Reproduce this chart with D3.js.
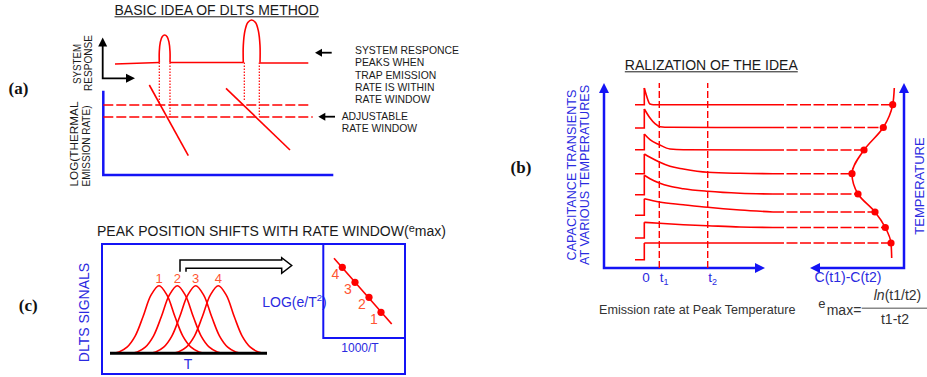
<!DOCTYPE html>
<html>
<head>
<meta charset="utf-8">
<script src="https://cdn.jsdelivr.net/npm/d3@7"></script>
<style>
  body { margin: 0; background: #fff; }
  svg text { font-family: "Liberation Sans", Arial, sans-serif; }
  svg text.plabel { font-family: "Liberation Serif", "Times New Roman", serif; font-weight: bold; }
</style>
</head>
<body>
<div id="chart"></div>
<script>
// ---------- panel (a): basic idea (diagram units, y up) ----------
const rateWindow = [70, 58];
const trapLines = [[[46, 90], [85, 19.3]], [[122.7, 86.7], [186.7, 25]]];
const responseFlat = [[[11.7, 111], [56, 112.5]], [[66.7, 112.5], [140, 112.5]], [[156.7, 112], [205, 112]]];
const responsePeaks = [[56, 66.7, 140, 112.5], [140, 156.7, 155, 112.3]];   // left, right, top, base
const peakDrops = [[56, 70], [66.7, 58], [141, 74.3], [156, 58]];
const noteLines = ["SYSTEM RESPONCE", "PEAKS WHEN", "TRAP EMISSION", "RATE IS WITHIN", "RATE WINDOW"];
const windowNote = ["ADJUSTABLE", "RATE WINDOW"];

// ---------- panel (b): capacitance transients ----------
const stepStart = 31, stepTime = 40.3, solidEnd = 169, t1 = 55.3, t2 = 103.7;
const baseLevels = [163.3, 140, 118.3, 94.3, 73.3, 52.7, 30, 8.3];
const transients = [
  [[40.3, 180], [42.7, 171.7], [46, 164], [49.3, 163.3], [169, 163.3]],
  [[40.3, 159], [46, 150], [51, 144.3], [56, 141.3], [66, 140.7], [169, 140.5]],
  [[40.3, 134], [46, 128.3], [55.3, 123.3], [66, 119], [79.3, 118.3], [169, 118]],
  [[40.3, 114], [46, 110.7], [55.3, 106], [66, 101.7], [79.3, 99], [103.7, 95.7], [136, 94.7], [169, 94.3]],
  [[40.3, 92.7], [46, 89.3], [55.3, 85], [66, 81.7], [79.3, 79.3], [103.7, 76.7], [136, 74.7], [169, 74]],
  [[40.3, 69.3], [55.3, 66], [79.3, 63.3], [103.7, 60.7], [136, 58], [169, 56]],
  [[40.3, 45.7], [55.3, 44.7], [79.3, 43.3], [103.7, 42.3], [136, 41], [169, 40.5]],
  [[40.3, 25], [103.7, 25], [169, 25]]
];
const dltsSignal = [288.7, 279.3, 260, 248, 254, 271, 281.3, 287];
const signalEnds = [[290.3, 180], [287.7, 10]];

// ---------- panel (c): peak shift ----------
const peakT = [49, 67.3, 85.7, 108.3];
const peakNames = ["1", "2", "3", "4"];
const profileOffset = [-47, -40, -32, -24, -16, -8, 0, 8, 16, 24, 32, 40, 47];
const profileHeight = [0, 0.02, 0.09, 0.25, 0.54, 0.86, 1, 0.86, 0.54, 0.25, 0.09, 0.02, 0];
const invT = [57.7, 45.7, 31.7, 19];
const logRate = [25.7, 40.7, 55.7, 70.7];
const fitLine = [[10.7, 79.7], [68.4, 14]];

const RED = "#ff0000", BLUE = "#1414f5", TBLUE = "#2a2ae0", ORANGE = "#ff5533";

const svg = d3.select("#chart").append("svg")
  .attr("width", 927).attr("height", 377);

function head(g, x, y, dx, dy, len, half, color) {
  const bx = x - dx * len, by = y - dy * len, px = -dy * half, py = dx * half;
  g.append("path")
    .attr("d", `M${x},${y}L${bx + px},${by + py}L${bx - px},${by - py}Z`)
    .attr("fill", color);
}
function vtext(g, x, y, str, size, color, anchor, len) {
  const t = g.append("text").attr("transform", `translate(${x},${y}) rotate(-90)`)
    .attr("text-anchor", anchor || "middle").attr("font-size", size).attr("fill", color).text(str);
  if (len) t.attr("textLength", len).attr("lengthAdjust", "spacingAndGlyphs");
  return t;
}
function title(g, x, y, str, underline) {
  const t = g.append("text").attr("x", x).attr("y", y).attr("text-anchor", "middle")
    .attr("font-size", 14).attr("fill", "#1a1a1a").text(str);
  if (underline) {
    const w = t.node().getComputedTextLength();
    g.append("line").attr("x1", x - w / 2).attr("x2", x + w / 2)
      .attr("y1", y + 1.8).attr("y2", y + 1.8).attr("stroke", "#1a1a1a").attr("stroke-width", 1);
  }
}
function label(g, x, y, str) {
  g.append("text").attr("class", "plabel").attr("x", x).attr("y", y).attr("text-anchor", "middle")
    .attr("font-size", 17).attr("fill", "#111").text(str);
}

// ================= panel (a) =================
const ga = svg.append("g");
const xA = d3.scaleLinear().domain([0, 230]).range([103.3, 333.3]);
const yA = d3.scaleLinear().domain([0, 155]).range([175, 20]);
const lineA = d3.line().x(d => xA(d[0])).y(d => yA(d[1]));

title(ga, 216.7, 15, "BASIC IDEA OF DLTS METHOD", true);
label(ga, 18.5, 94, "(a)");

// blue axes
ga.append("path").attr("d", lineA([[0, 84.3], [0, 0], [230, 0]]))
  .attr("fill", "none").attr("stroke", BLUE).attr("stroke-width", 2.5);

// black response axes
const ox = xA(-0.6), oy = yA(96.7);
ga.append("path").attr("d", `M${ox},${yA(132)}V${oy}H${xA(26)}`)
  .attr("fill", "none").attr("stroke", "#000").attr("stroke-width", 1.8);
head(ga, ox, yA(137.5), 0, -1, 9, 4.5, "#000");
head(ga, xA(31.7), oy, 1, 0, 9, 4.5, "#000");

// rate window
rateWindow.forEach((v, i) => {
  ga.append("path").attr("d", lineA([[0, v], [207.4 + 2 * i, v]]))
    .attr("stroke", RED).attr("stroke-width", 1.5).attr("stroke-dasharray", "10,3").attr("fill", "none");
});

// trap emission rates
trapLines.forEach(l => {
  ga.append("path").attr("d", lineA(l)).attr("stroke", RED).attr("stroke-width", 1.6).attr("fill", "none");
});

// dotted drops from peak edges
peakDrops.forEach(d => {
  ga.append("path").attr("d", lineA([[d[0], 112.5], [d[0], d[1]]]))
    .attr("stroke", RED).attr("stroke-width", 1.2).attr("stroke-dasharray", "1.6,1.4").attr("fill", "none");
});

// system response
responseFlat.forEach(s => {
  ga.append("path").attr("d", lineA(s)).attr("stroke", RED).attr("stroke-width", 1.6).attr("fill", "none");
});
const arch = d3.line().x(d => xA(d[0])).y(d => yA(d[1])).curve(d3.curveCatmullRom.alpha(0.5));
responsePeaks.forEach(([l, r, top, b]) => {
  const w = r - l, h = top - b;
  ga.append("path")
    .attr("d", arch([[l, b], [l, b + 0.4 * h], [l + 0.1 * w, b + 0.75 * h], [l + 0.27 * w, b + 0.94 * h],
      [(l + r) / 2, top], [r - 0.27 * w, b + 0.94 * h], [r - 0.1 * w, b + 0.75 * h], [r, b + 0.4 * h], [r, b]]))
    .attr("stroke", RED).attr("stroke-width", 1.6).attr("fill", "none");
});

// side labels
vtext(ga, 80.5, 64, "SYSTEM", 10.5, "#1a1a1a", "middle", 40);
vtext(ga, 91.5, 63, "RESPONSE", 10.5, "#1a1a1a", "middle", 56);
vtext(ga, 77.5, 186.5, "LOG(THERMAL", 11.5, "#1a1a1a", "start", 85);
vtext(ga, 89.5, 186.5, "EMISSION RATE)", 11.5, "#1a1a1a", "start", 81);

// notes with arrows
ga.append("line").attr("x1", 320).attr("x2", 331.7).attr("y1", 52.7).attr("y2", 52.7)
  .attr("stroke", "#000").attr("stroke-width", 1.8);
head(ga, 315, 52.7, -1, 0, 7, 4, "#000");
ga.append("line").attr("x1", 323).attr("x2", 335).attr("y1", 116.7).attr("y2", 116.7)
  .attr("stroke", "#000").attr("stroke-width", 1.8);
head(ga, 318.3, 116.7, -1, 0, 7, 4, "#000");
noteLines.forEach((s, i) => {
  ga.append("text").attr("x", 355).attr("y", 54 + i * 12.3).attr("font-size", 10.4).attr("fill", "#1a1a1a").text(s);
});
windowNote.forEach((s, i) => {
  ga.append("text").attr("x", 341.7).attr("y", 120 + i * 12.3).attr("font-size", 10.4).attr("fill", "#1a1a1a").text(s);
});

// ================= panel (b) =================
const gb = svg.append("g");
const xB = d3.scaleLinear().domain([0, 300]).range([604, 904]);
const yB = d3.scaleLinear().domain([0, 185]).range([268, 83]);
const lineB = d3.line().x(d => xB(d[0])).y(d => yB(d[1]));
const decay = d3.line().x(d => xB(d[0])).y(d => yB(d[1])).curve(d3.curveMonotoneX);

title(gb, 711.3, 70, "RALIZATION OF THE IDEA", true);
label(gb, 521, 173, "(b)");

// axes
gb.append("path").attr("d", lineB([[0, 178], [0, 0], [153, 0]]))
  .attr("fill", "none").attr("stroke", BLUE).attr("stroke-width", 2.5);
head(gb, xB(0), yB(185), 0, -1, 10, 5, BLUE);
head(gb, xB(161), yB(0), 1, 0, 10, 5, BLUE);
gb.append("path").attr("d", lineB([[300, 178], [300, 0], [214, 0]]))
  .attr("fill", "none").attr("stroke", BLUE).attr("stroke-width", 2.5);
head(gb, xB(300), yB(185), 0, -1, 10, 5, BLUE);
head(gb, xB(206), yB(0), -1, 0, 10, 5, BLUE);

// t1, t2 gates
[t1, t2].forEach(t => {
  gb.append("path").attr("d", lineB([[t, 0], [t, 185]]))
    .attr("stroke", RED).attr("stroke-width", 1.4).attr("stroke-dasharray", "7,3").attr("fill", "none");
});

// transients
transients.forEach((pts, i) => {
  const peak = pts[0], last = pts[pts.length - 1];
  gb.append("path").attr("d", lineB([[stepStart, baseLevels[i]], [stepTime, baseLevels[i]], peak]))
    .attr("stroke", RED).attr("stroke-width", 1.6).attr("fill", "none");
  gb.append("path").attr("d", decay(pts))
    .attr("stroke", RED).attr("stroke-width", 1.6).attr("fill", "none");
  gb.append("path").attr("d", lineB([[solidEnd, last[1]], [dltsSignal[i], last[1]]]))
    .attr("stroke", RED).attr("stroke-width", 1.6).attr("stroke-dasharray", "11,2.5").attr("fill", "none");
});

// DLTS signal vs temperature
const sigPts = [signalEnds[0]].concat(dltsSignal.map((s, i) => [s, transients[i][transients[i].length - 1][1]]), [signalEnds[1]]);
gb.append("path").attr("d", d3.line().x(d => xB(d[0])).y(d => yB(d[1])).curve(d3.curveMonotoneY)(sigPts))
  .attr("stroke", RED).attr("stroke-width", 1.6).attr("fill", "none");
gb.selectAll("circle.sig").data(sigPts.slice(1, -1)).join("circle")
  .attr("cx", d => xB(d[0])).attr("cy", d => yB(d[1])).attr("r", 3.6).attr("fill", RED);

// labels
gb.append("text").attr("x", 646).attr("y", 282).attr("text-anchor", "middle").attr("font-size", 13.5).attr("fill", TBLUE).text("0");
[[t1, "1"], [t2, "2"]].forEach(([t, s]) => {
  const tx = gb.append("text").attr("x", xB(t) + 0.5).attr("y", 282).attr("font-size", 13.5).attr("fill", TBLUE);
  tx.append("tspan").text("t");
  tx.append("tspan").attr("font-size", 9).attr("dy", 3).text(s);
});
gb.append("text").attr("x", 848).attr("y", 282).attr("text-anchor", "middle").attr("font-size", 14).attr("fill", TBLUE).text("C(t1)-C(t2)");
vtext(gb, 576, 175, "CAPACITANCE TRANSIENTS", 12.6, TBLUE);
vtext(gb, 588.5, 175, "AT VARIOUS TEMPERATURES", 12.6, TBLUE);
vtext(gb, 923.5, 186, "TEMPERATURE", 13, TBLUE);

gb.append("text").attr("x", 599).attr("y", 313.5).attr("font-size", 12.6).attr("fill", "#333").text("Emission rate at Peak Temperature");
gb.append("text").attr("x", 818.3).attr("y", 308).attr("font-size", 13).attr("fill", "#333").text("e");
gb.append("text").attr("x", 826.7).attr("y", 315).attr("font-size", 14).attr("fill", "#333").text("max=");
gb.append("line").attr("x1", 861.7).attr("x2", 927).attr("y1", 308.3).attr("y2", 308.3).attr("stroke", "#888").attr("stroke-width", 1.5);
const num = gb.append("text").attr("x", 897.5).attr("y", 300).attr("text-anchor", "middle").attr("font-size", 14).attr("fill", "#333");
num.append("tspan").attr("font-style", "italic").text("ln");
num.append("tspan").text("(t1/t2)");
gb.append("text").attr("x", 895).attr("y", 324).attr("text-anchor", "middle").attr("font-size", 14).attr("fill", "#333").text("t1-t2");

// ================= panel (c) =================
const gc = svg.append("g");
const xC = d3.scaleLinear().domain([0, 157]).range([110, 267]);
const yC = d3.scaleLinear().domain([0, 1]).range([353.3, 285.7]);
const xI = d3.scaleLinear().domain([0, 81.7]).range([323.3, 405]);
const yI = d3.scaleLinear().domain([0, 94]).range([338, 244]);

const tc = gc.append("text").attr("x", 97).attr("y", 236).attr("font-size", 14).attr("fill", "#1a1a1a");
tc.append("tspan").text("PEAK POSITION SHIFTS WITH RATE WINDOW(");
tc.append("tspan").attr("font-size", 11).attr("dy", -4).text("e");
tc.append("tspan").attr("dy", 4).text("max)");
label(gc, 28.3, 311, "(c)");

vtext(gc, 88.5, 312.5, "DLTS SIGNALS", 14, TBLUE);

// LOG label sits under the inset frame
gc.append("text").attr("x", 262.3).attr("y", 306.7).attr("font-size", 14).attr("fill", TBLUE)
  .call(t => { t.append("tspan").text("LOG(e/T"); t.append("tspan").attr("font-size", 9.5).attr("dy", -6).text("2"); t.append("tspan").attr("dy", 6).text(")"); });

// outer box and inset
gc.append("rect").attr("x", 102).attr("y", 244).attr("width", 303).attr("height", 130)
  .attr("fill", "none").attr("stroke", BLUE).attr("stroke-width", 2);
gc.append("rect").attr("x", xI(0)).attr("y", yI(94)).attr("width", xI(81.7) - xI(0)).attr("height", yI(0) - yI(94))
  .attr("fill", "none").attr("stroke", BLUE).attr("stroke-width", 2);

// peaks
const gauss = d3.line().x(d => xC(d[0])).y(d => yC(d[1])).curve(d3.curveCatmullRom.alpha(0.5));
peakT.forEach((p, i) => {
  gc.append("path").attr("d", gauss(profileOffset.map((o, k) => [p + o, profileHeight[k]])))
    .attr("stroke", RED).attr("stroke-width", 1.6).attr("fill", "none");
  gc.append("text").attr("x", xC(p)).attr("y", 283.3).attr("text-anchor", "middle")
    .attr("font-size", 13).attr("fill", ORANGE).text(peakNames[i]);
});
gc.append("line").attr("x1", xC(0)).attr("x2", xC(157)).attr("y1", yC(0)).attr("y2", yC(0))
  .attr("stroke", "#000").attr("stroke-width", 3);
gc.append("text").attr("x", 188).attr("y", 368.5).attr("text-anchor", "middle").attr("font-size", 14).attr("fill", TBLUE).text("T");

// hollow arrow from peak 2 towards the inset
const ax = xC(peakT[1]) + 2.7;
gc.append("path")
  .attr("d", `M${ax},271.7V260H281.7V257.7L291.7,265.5L281.7,273.3V268.3H${ax + 6}V271.7`)
  .attr("fill", "none").attr("stroke", "#000").attr("stroke-width", 1.5).attr("stroke-linejoin", "miter");

// Arrhenius inset
gc.append("path").attr("d", d3.line().x(d => xI(d[0])).y(d => yI(d[1]))(fitLine))
  .attr("stroke", RED).attr("stroke-width", 1.6).attr("fill", "none");
invT.forEach((v, i) => {
  gc.append("circle").attr("cx", xI(v)).attr("cy", yI(logRate[i])).attr("r", 3.6).attr("fill", RED);
  gc.append("text").attr("x", xI(v) - 7).attr("y", yI(logRate[i]) + 12).attr("text-anchor", "middle")
    .attr("font-size", 14).attr("fill", ORANGE).text(peakNames[i]);
});
gc.append("text").attr("x", 360).attr("y", 351.7).attr("text-anchor", "middle").attr("font-size", 12).attr("fill", TBLUE).text("1000/T");
</script>
</body>
</html>
